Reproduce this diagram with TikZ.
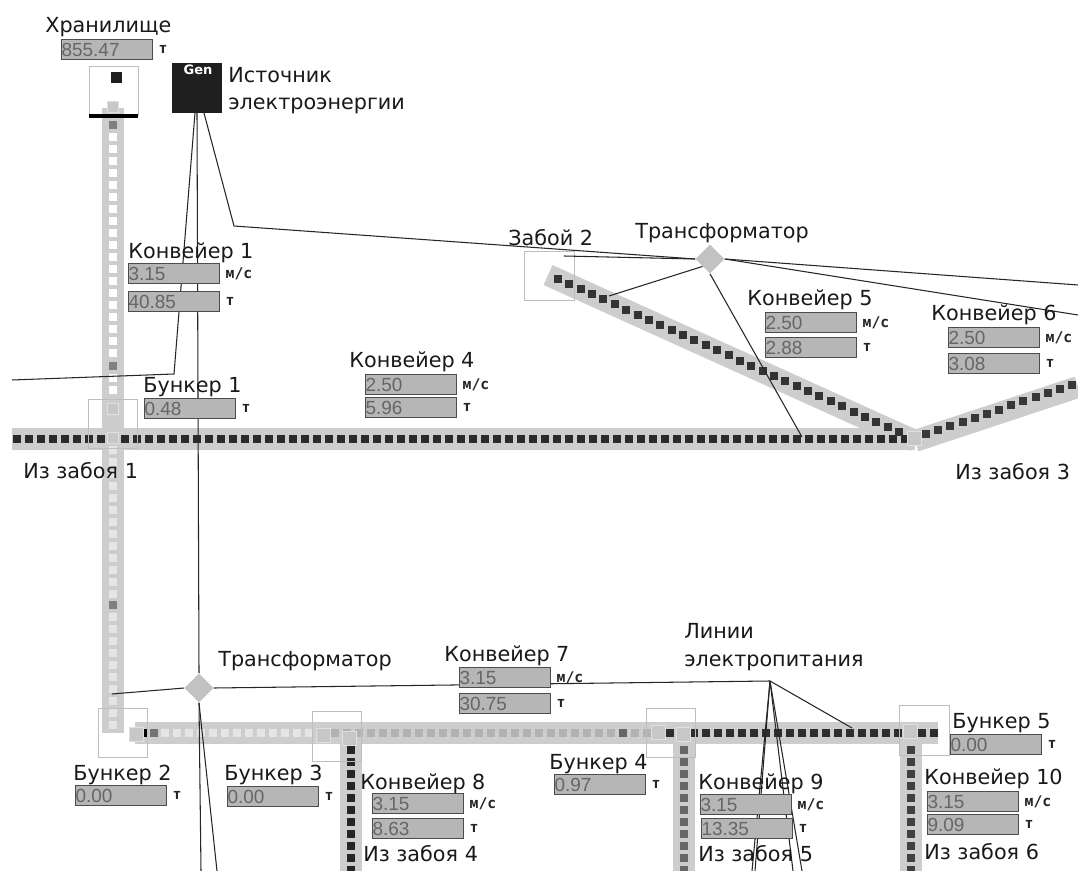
\documentclass[tikz,border=0pt]{standalone}
\usepackage{fontspec}
\usepackage{xcolor}
\setmainfont{DejaVu Sans}
\newfontfamily\valfont{Liberation Sans}
\newfontfamily\unitfont{DejaVu Sans Mono}
\usetikzlibrary{positioning,calc,shapes.geometric}
\definecolor{beltgray}{HTML}{CDCDCD}
\definecolor{boxgray}{HTML}{B6B6B6}
\definecolor{markgray}{HTML}{BEBEBE}
\definecolor{linegray}{HTML}{262626}
\begin{document}
\begin{tikzpicture}[x=0.02cm,y=-0.02cm]
  \tikzstyle{lab}=[anchor=base west,inner sep=0pt,font=\fontsize{11.8}{11.8}\selectfont,text=black!90]
  \tikzstyle{valbox}=[draw=black!70,line width=0.6pt,fill=boxgray,anchor=north west,inner sep=0pt,minimum height=11.4pt,text height=7.7pt,text depth=0pt,text width=51.8pt,align=left,font=\valfont\fontsize{10.8}{10.8}\selectfont,text=black!60]
  \tikzstyle{unitlab}=[inner sep=0pt,font=\unitfont\bfseries\fontsize{8.4}{8.4}\selectfont,text=black!85]
  \tikzstyle{belt}=[beltgray,line width=12.4pt]
  \tikzstyle{marker}=[draw=markgray,line width=0.5pt,minimum size=28pt,inner sep=0pt]
  \tikzstyle{blockgray}=[fill=black!22,draw=black!12,line width=0.3pt,minimum size=6.2pt,inner sep=0pt]
  \tikzstyle{trafo}=[diamond,fill=black!24,minimum size=16.5pt,inner sep=0pt]
  \tikzstyle{powerline}=[linegray,line width=0.6pt]
  \useasboundingbox[fill=white] (0,0) rectangle (1078,871);

  % storage and source
  \node[draw=black!25,fill=white,minimum size=28pt,inner sep=0pt] (store) at (113.5,91) {};
  \fill[black!88] (111,72) rectangle (122,83);
  \node[fill=black!88,minimum size=29pt,inner sep=0pt] (gen) at (197,88) {};
  \node[anchor=north,inner sep=0pt,text=white,font=\bfseries\fontsize{7.4}{7.4}\selectfont] (genname) at (198,65) {Gen};

  % belts
  \coordinate (beltAtop) at (113,108);
  \coordinate (beltAend) at (113,733);
  \coordinate (beltBl) at (12,439);
  \coordinate (beltBr) at (915,439);
  \coordinate (beltCl) at (548,275);
  \coordinate (beltDl) at (915,441);
  \coordinate (beltDr) at (1078,387);
  \coordinate (beltEl) at (135,733);
  \coordinate (beltEr) at (938,733);
  \draw[belt] (beltAtop) -- (beltAend);
  \draw[belt] (beltBl) -- (beltBr);
  \draw[belt] (beltCl) -- (beltDl);
  \draw[belt] (beltDl) -- (beltDr);
  \draw[belt] (beltEl) -- (beltEr);
  \draw[belt] (351,733) -- (351,871);
  \draw[belt] (684,733) -- (684,871);
  \draw[belt] (911,733) -- (911,871);

  % squares on the belts
  \foreach \y in {137,149,...,353,378,390}
    \fill[white] (113-4,\y-4) rectangle +(8,8);
  \foreach \y in {450,462,...,594,617,629,...,725}
    \fill[black!10] (113-4,\y-4) rectangle +(8,8);
  \foreach \y in {125,366,605}
    \fill[black!50] (113-4,\y-4) rectangle +(8,8);
  \foreach \x in {17,29,...,101,125,137,...,905}
    \fill[black!83] (\x-4,439-4) rectangle +(8,8);
  \foreach \i in {0,...,30}
    \fill[black!80] ($(558,279)!\i/30!(899,432)$) +(-4,-4) rectangle +(4,4);
  \foreach \i in {0,...,12}
    \fill[black!78] ($(926,434)!\i/12!(1072,385)$) +(-4,-4) rectangle +(4,4);
  \foreach \x in {165,177,...,309}
    \fill[black!10] (\x-4,733-4) rectangle +(8,8);
  \foreach \x in {335,347,...,647}
    \fill[black!30] (\x-4,733-4) rectangle +(8,8);
  \foreach \x in {670,694,706,...,898,922,934}
    \fill[black!82] (\x-4,733-4) rectangle +(8,8);
  \fill[black] (143-3.5,733-4) rectangle +(7,8);
  \fill[black!55] (154-4,733-4) rectangle +(8,8);
  \fill[black!60] (623-4,733-4) rectangle +(8,8);
  \foreach \y in {750,762,...,870} {
    \fill[black!85] (351-4,\y-4) rectangle +(8,8);
    \fill[black!60] (684-4,\y-4) rectangle +(8,8);
    \fill[black!75] (911-4,\y-4) rectangle +(8,8);
  }

  % grey blocks
  \node[blockgray] (blkstore) at (113,107) {};
  \node[blockgray] (blkone) at (113,409) {};
  \node[blockgray] (blktwo) at (113,438) {};
  \node[blockgray,minimum size=8pt] (blkthree) at (914,438) {};
  \node[blockgray,minimum size=8pt] (blkfour) at (136,734) {};
  \node[blockgray,minimum size=8pt] (blkfive) at (323,735) {};
  \node[blockgray,minimum size=8pt] (blksix) at (349,738) {};
  \node[blockgray,minimum size=8pt] (blkseven) at (658,732) {};
  \node[blockgray,minimum size=8pt] (blkeight) at (683,734) {};
  \node[blockgray,minimum size=8pt] (blknine) at (910,731) {};
  \draw[black,line width=1.8pt] (store.south west) -- (store.south east);

  % bunker markers
  \node[marker] (mark1) at (113,424) {};
  \node[marker] (mark2) at (123,733) {};
  \node[marker] (mark3) at (337,736.5) {};
  \node[marker] (mark4) at (671,733) {};
  \node[marker] (mark5) at (924.5,730.5) {};
  \node[marker] (mark6) at (549.5,276) {};

  % transformers
  \node[trafo] (trA) at (710,259) {};
  \node[trafo] (trB) at (199,688) {};

  % power lines
  \coordinate (genA) at (195,113);
  \coordinate (genB) at (197,113);
  \coordinate (genC) at (204,113);
  \coordinate (bendA) at (174,374);
  \coordinate (bendC) at (234,226);
  \coordinate (endA) at (12,380);
  \coordinate (endR) at (1078,285);
  \coordinate (endS) at (1078,315);
  \coordinate (pit) at (564,256);
  \coordinate (beltHit) at (609,296);
  \coordinate (mainHit) at (802,437);
  \coordinate (storeHit) at (112,694);
  \coordinate (junc) at (770,681);
  \draw[powerline] (genA) -- (bendA) -- (endA);
  \draw[powerline] (genB) -- (trB.north);
  \draw[powerline] (genC) -- (bendC) -- (trA.west);
  \draw[powerline] (pit) -- (trA.west);
  \draw[powerline] (trA.south west) -- (beltHit);
  \draw[powerline] (trA.south) -- (mainHit);
  \draw[powerline] (trA.east) -- (endR);
  \draw[powerline] (trA.east) -- (endS);
  \draw[powerline] (trB.west) -- (storeHit);
  \draw[powerline] (trB.east) -- (junc);
  \draw[powerline] (trB.south) -- (201,871);
  \draw[powerline] (trB.south) -- (217,871);
  \draw[powerline] (junc) -- (852,728);
  \foreach \x in {752,755,793,802}
    \draw[powerline] (junc) -- (\x,871);

  % values
  \node[valbox] (storeval) at (61,39) {855.47};
  \node[valbox] (c1v) at (128,263) {3.15};
  \node[valbox] (c1t) at (128,291) {40.85};
  \node[valbox] (b1val) at (144,398) {0.48};
  \node[valbox] (c4v) at (365,374) {2.50};
  \node[valbox] (c4t) at (365,397) {5.96};
  \node[valbox] (c5v) at (765,312) {2.50};
  \node[valbox] (c5t) at (765,337) {2.88};
  \node[valbox] (c6v) at (948,327) {2.50};
  \node[valbox] (c6t) at (948,353) {3.08};
  \node[valbox] (c7v) at (459,667) {3.15};
  \node[valbox] (c7t) at (459,693) {30.75};
  \node[valbox] (b2val) at (75,785) {0.00};
  \node[valbox] (b3val) at (227,786) {0.00};
  \node[valbox] (b4val) at (554,774) {0.97};
  \node[valbox] (b5val) at (950,734) {0.00};
  \node[valbox] (c8v) at (372,793) {3.15};
  \node[valbox] (c8t) at (372,818) {8.63};
  \node[valbox] (c9v) at (700,794) {3.15};
  \node[valbox] (c9t) at (701,818) {13.35};
  \node[valbox] (c10v) at (927,791) {3.15};
  \node[valbox] (c10t) at (927,814) {9.09};

  % units
  \foreach \name in {storeval,c1t,b1val,c4t,c5t,c6t,c7t,b2val,b3val,b4val,b5val,c8t,c9t,c10t}
    \node[unitlab,right=3pt of \name] (u\name) {т};
  \foreach \name in {c1v,c4v,c5v,c6v,c7v,c8v,c9v,c10v}
    \node[unitlab,right=3pt of \name] (u\name) {м/с};

  % labels
  \node[lab] (lstore) at (45,33) {Хранилище};
  \node[lab] (lgen1) at (228,83) {Источник};
  \node[lab] (lgen2) at (228,110) {электроэнергии};
  \node[lab] (lc1) at (128,259) {Конвейер 1};
  \node[lab] (lb1) at (143,393) {Бункер 1};
  \node[lab] (lc4) at (349,367) {Конвейер 4};
  \node[lab] (lpit) at (508,246) {Забой 2};
  \node[lab] (ltrA) at (635,239) {Трансформатор};
  \node[lab] (lc5) at (747,306) {Конвейер 5};
  \node[lab] (lc6) at (931,321) {Конвейер 6};
  \node[lab] (lf1) at (23,478) {Из забоя 1};
  \node[lab] (lf3) at (955,479) {Из забоя 3};
  \node[lab] (ltrB) at (218,666) {Трансформатор};
  \node[lab] (lc7) at (444,661) {Конвейер 7};
  \node[lab] (lln1) at (684,638) {Линии};
  \node[lab] (lln2) at (684,666) {электропитания};
  \node[lab] (lb5) at (952,728) {Бункер 5};
  \node[lab] (lb4) at (549,769) {Бункер 4};
  \node[lab] (lb2) at (73,780) {Бункер 2};
  \node[lab] (lb3) at (224,780) {Бункер 3};
  \node[lab] (lc8) at (360,789) {Конвейер 8};
  \node[lab] (lc9) at (698,789) {Конвейер 9};
  \node[lab] (lc10) at (924,784) {Конвейер 10};
  \node[lab] (lf4) at (363,861) {Из забоя 4};
  \node[lab] (lf5) at (698,861) {Из забоя 5};
  \node[lab] (lf6) at (924,859) {Из забоя 6};
\end{tikzpicture}
\end{document}
